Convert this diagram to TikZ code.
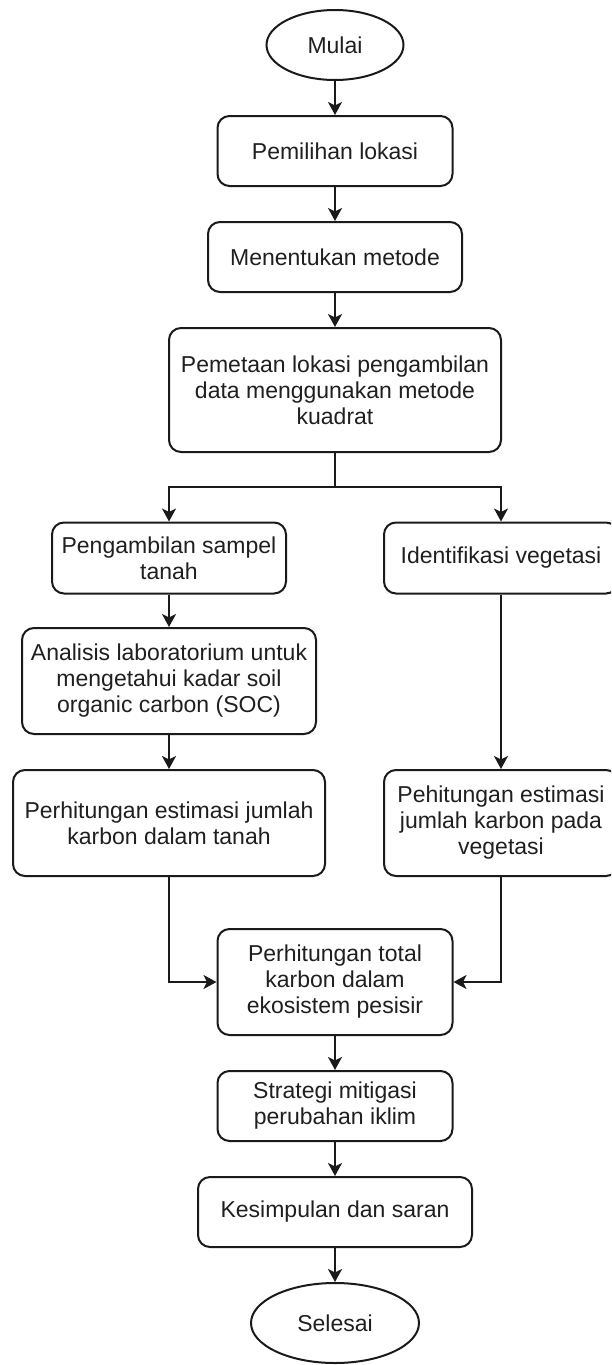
\documentclass[tikz,border=0pt]{standalone}
\usepackage{fontspec}
\setmainfont{Liberation Sans}
\usetikzlibrary{shapes.geometric,arrows.meta,positioning}
\definecolor{ln}{HTML}{1A1A1A}
\definecolor{tx}{HTML}{1F1F1F}
\begin{document}
\begin{tikzpicture}[x=1pt,y=-1pt,
  every node/.style={font=\fontsize{23}{26}\selectfont, text=tx, align=center},
  proc/.style={draw=ln, line width=2pt, rounded corners=12pt, inner sep=0pt},
  term/.style={draw=ln, line width=2pt, ellipse, inner sep=0pt},
  arr/.style={draw=ln, line width=2pt, -{Stealth[length=13pt,width=14pt,inset=3.5pt]}}
]
\useasboundingbox (0,0) rectangle (611,1365);
\clip (0,0) rectangle (611,1365);
\node[term, minimum width=137pt, minimum height=70pt] (mulai) at (335,45) {Mulai};
\node[proc, minimum width=235pt, minimum height=70pt] (pilih) at (335,151) {Pemilihan lokasi};
\node[proc, minimum width=254pt, minimum height=70pt] (metode) at (335,257) {Menentukan metode};
\node[proc, minimum width=332pt, minimum height=124pt] (peta) at (335,390) {Pemetaan lokasi pengambilan\\data menggunakan metode\\kuadrat};
\node[proc, minimum width=234pt, minimum height=71pt] (sampel) at (169,558) {Pengambilan sampel\\tanah};
\node[proc, minimum width=234pt, minimum height=71pt] (ident) at (501,558) {Identifikasi vegetasi};
\node[proc, minimum width=294pt, minimum height=106pt] (lab) at (169,681) {Analisis laboratorium untuk\\mengetahui kadar soil\\organic carbon (SOC)};
\node[proc, minimum width=312pt, minimum height=106pt] (tanah) at (169,823) {Perhitungan estimasi jumlah\\karbon dalam tanah};
\node[proc, minimum width=234pt, minimum height=106pt] (veg) at (501,823) {Pehitungan estimasi\\jumlah karbon pada\\vegetasi};
\node[proc, minimum width=235pt, minimum height=106pt] (total) at (335,982) {Perhitungan total\\karbon dalam\\ekosistem pesisir};
\node[proc, minimum width=235pt, minimum height=70pt] (strategi) at (335,1106) {Strategi mitigasi\\perubahan iklim};
\node[proc, minimum width=274pt, minimum height=70pt] (simpul) at (335,1212) {Kesimpulan dan saran};
\node[term, minimum width=168pt, minimum height=80pt] (selesai) at (335,1323) {Selesai};
\coordinate (split) at (335,487);
\draw[arr] (mulai) -- (pilih);
\draw[arr] (pilih) -- (metode);
\draw[arr] (metode) -- (peta);
\draw[draw=ln, line width=2pt] (peta.south) -- (split);
\draw[arr] (split) -| (sampel.north);
\draw[arr] (split) -| (ident.north);
\draw[arr] (sampel) -- (lab);
\draw[arr] (lab) -- (tanah);
\draw[arr] (ident) -- (veg);
\draw[arr] (tanah.south) |- (total.west);
\draw[arr] (veg.south) |- (total.east);
\draw[arr] (total) -- (strategi);
\draw[arr] (strategi) -- (simpul);
\draw[arr] (simpul) -- (selesai);
\end{tikzpicture}
\end{document}
